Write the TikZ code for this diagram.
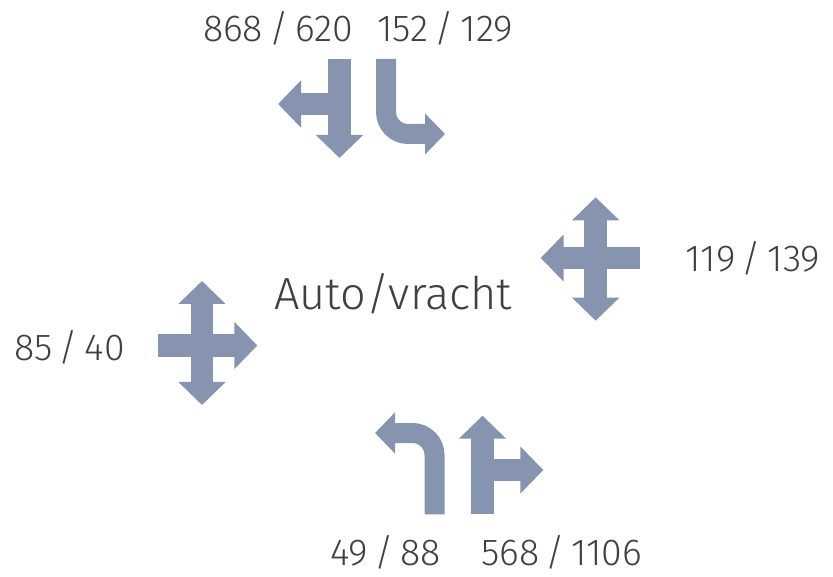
\documentclass[tikz,border=0pt]{standalone}
\usepackage{fontspec}
\setmainfont{Fira Sans Light}
\usetikzlibrary{arrows.meta}
\definecolor{laneblue}{RGB}{134,148,176}
\definecolor{countgray}{RGB}{64,64,64}

\begin{document}
\begin{tikzpicture}[
    x=1pt, y=-1pt,
    lane/.style={draw=laneblue, line width=22.5pt},
    turn/.style={draw=laneblue, line width=20pt, rounded corners=22pt},
    >={Triangle[width=46pt, length=23pt]},
    turnhead/.style={-{Triangle[width=40pt, length=20pt]}},
    count/.style={font=\fontsize{37.5}{44}\selectfont, text=countgray, anchor=base}]

    \useasboundingbox (0,0) rectangle (833,577);

    % Define counts
    \node[count] (north-left)  at (278,41.7)   {868\,/\,620};
    \node[count] (north-right) at (445.3,41.7) {152\,/\,129};
    \node[count] (east)        at (753,272)    {119\,/\,139};
    \node[count] (west)        at (69.5,360)   {85\,/\,40};
    \node[count] (south-left)  at (385.5,565)  {49\,/\,88};
    \node[count] (south-right) at (561.7,565)  {568\,/\,1106};
    \node[count, font=\fontsize{45}{52}\selectfont] (mode) at (393.3,310) {Auto/vracht};

    % North approach
    \path[lane, ->] (339.5,59) -- (339.5,158);
    \path[lane, ->] (339.5,104) -- (278,104);
    \path[turn, turnhead] (386,59) -- (386,134) -- (445,134);

    % East approach
    \path[lane, <->] (595.7,197.3) -- (595.7,320.7);
    \path[lane, ->] (640,258) -- (540.7,258);

    % West approach
    \path[lane, <->] (202,281) -- (202,405);
    \path[lane, ->] (158.3,345.5) -- (257.3,345.5);

    % South approach
    \path[turn, turnhead] (434.5,514.3) -- (434.5,433) -- (375,433);
    \path[lane, ->] (482.5,514.3) -- (482.5,415.7);
    \path[lane, ->] (482.5,470) -- (543.3,470);

\end{tikzpicture}
\end{document}
